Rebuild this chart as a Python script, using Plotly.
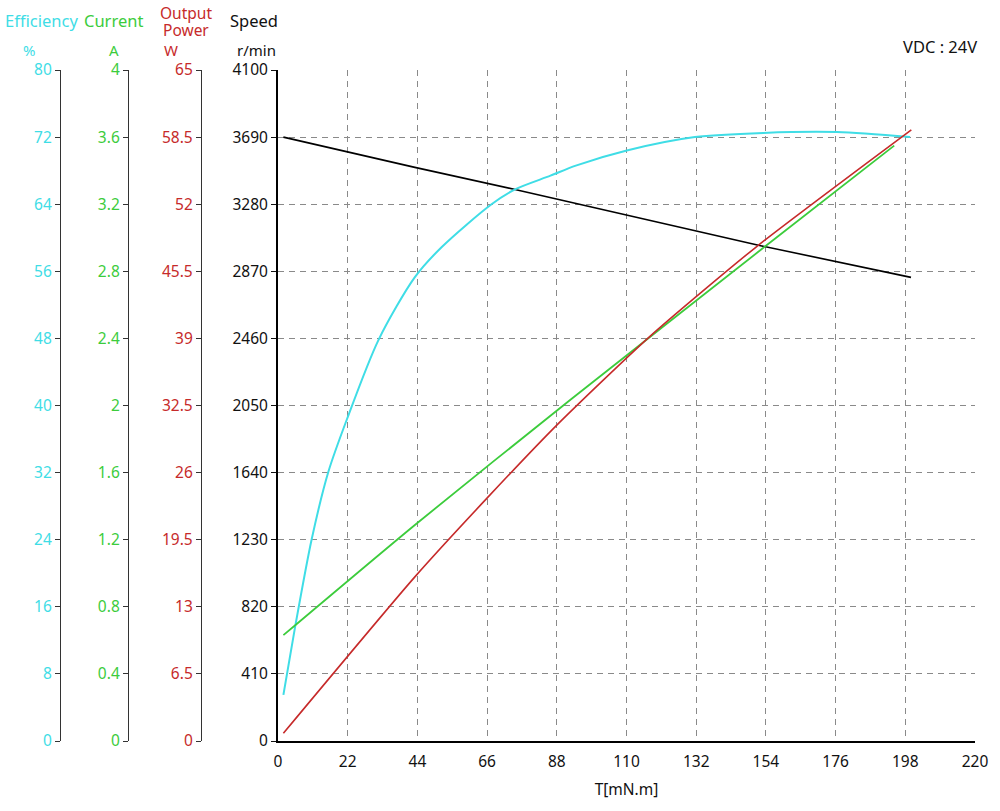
import plotly.graph_objects as go

# ---- data ----
torque_speed = [1.7, 43.2, 74.8, 110.0, 152.7, 199.8]
speed_rpm = [3690, 3505, 3370, 3215, 3025, 2833]

torque_eff = [1.7, 5.4, 10.6, 15.9, 21.7, 31.7, 43.2, 51.7, 67.4, 75.0, 86.0, 94.0,
              110.1, 131.6, 153.2, 176.4, 199.5]
efficiency = [5.5, 13.6, 24.0, 32.1, 38.3, 47.8, 55.3, 58.9, 64.0, 65.8, 67.4, 68.6,
              70.4, 72.0, 72.5, 72.6, 72.0]

torque_cur = [1.7, 43.2, 92.2, 153.2, 194.5]
current = [0.631, 1.288, 2.033, 2.94, 3.549]

torque_pow = [1.7, 43.2, 65.9, 88.0, 117.4, 151.1, 199.9]
power = [0.75, 15.9, 23.5, 30.6, 39.2, 47.9, 59.2]

x_ticks = [0, 22, 44, 66, 88, 110, 132, 154, 176, 198, 220]
speed_ticks = [0, 410, 820, 1230, 1640, 2050, 2460, 2870, 3280, 3690, 4100]
eff_ticks = [0, 8, 16, 24, 32, 40, 48, 56, 64, 72, 80]
cur_ticks = [0, 0.4, 0.8, 1.2, 1.6, 2, 2.4, 2.8, 3.2, 3.6, 4]
cur_labels = ["0", "0.4", "0.8", "1.2", "1.6", "2", "2.4", "2.8", "3.2", "3.6", "4"]
pow_ticks = [0, 6.5, 13, 19.5, 26, 32.5, 39, 45.5, 52, 58.5, 65]
pow_labels = ["0", "6.5", "13", "19.5", "26", "32.5", "39", "45.5", "52", "58.5", "65"]

CYAN = "#3fdde6"
GREEN = "#3ccc3c"
RED = "#c62a2a"
FONT = "Noto Sans"
TICK = 15.5
TITLE = 16.5

W, H = 1000, 811


def fx(px):
    return px / W


fig = go.Figure()
fig.add_trace(go.Scatter(x=torque_speed, y=speed_rpm, mode="lines", yaxis="y",
                         line=dict(color="black", width=1.6), showlegend=False,
                         hoverinfo="skip"))
fig.add_trace(go.Scatter(x=torque_eff, y=efficiency, mode="lines", yaxis="y2",
                         line=dict(color=CYAN, width=2, shape="spline", smoothing=0.8),
                         showlegend=False, hoverinfo="skip"))
fig.add_trace(go.Scatter(x=torque_cur, y=current, mode="lines", yaxis="y3",
                         line=dict(color=GREEN, width=1.8, shape="spline", smoothing=0.6),
                         showlegend=False, hoverinfo="skip"))
fig.add_trace(go.Scatter(x=torque_pow, y=power, mode="lines", yaxis="y4",
                         line=dict(color=RED, width=1.6, shape="spline", smoothing=0.6),
                         showlegend=False, hoverinfo="skip"))

side_axis = dict(anchor="free", overlaying="y", side="left", showgrid=False,
                 zeroline=False, showline=True, linecolor="#333", linewidth=1.3,
                 ticks="outside", ticklen=5, tickcolor="#333", automargin=False)

fig.update_layout(
    template="none",
    width=W, height=H, autosize=False,
    margin=dict(l=0, r=0, t=70, b=70, pad=0, autoexpand=False),
    paper_bgcolor="white", plot_bgcolor="white",
    font=dict(family=FONT, size=TICK, color="#111"),
    xaxis=dict(domain=[fx(278), fx(975)], range=[0, 220], tickvals=x_ticks,
               showline=True, linecolor="black", linewidth=2, automargin=False,
               showgrid=True, gridcolor="#8a8a8a", gridwidth=1, griddash="6px,5px",
               zeroline=False, ticks="", ticklabelstandoff=5,
               tickfont=dict(size=TICK, color="#111"),
               title=dict(text="T[mN.m]", font=dict(size=TICK, color="#111"), standoff=14)),
    yaxis=dict(range=[0, 4100], tickvals=speed_ticks, anchor="x", automargin=False,
               showline=True, linecolor="black", linewidth=2,
               showgrid=True, gridcolor="#8a8a8a", gridwidth=1, griddash="6px,5px",
               zeroline=False, ticks="outside", ticklen=5, tickcolor="#111",
               tickfont=dict(size=TICK, color="#111")),
    yaxis2=dict(side_axis, position=fx(60), range=[0, 80], tickvals=eff_ticks,
                tickfont=dict(size=TICK, color=CYAN)),
    yaxis3=dict(side_axis, position=fx(128), range=[0, 4], tickvals=cur_ticks,
                ticktext=cur_labels, tickfont=dict(size=TICK, color=GREEN)),
    yaxis4=dict(side_axis, position=fx(201), range=[0, 65], tickvals=pow_ticks,
                ticktext=pow_labels, tickfont=dict(size=TICK, color=RED)),
)


def fy(pix):
    return (741 - pix) / 671.0


anns = [
    ("Efficiency", 41, 21, CYAN, TITLE),
    ("Current", 113, 21, GREEN, TITLE),
    ("Output", 186, 13.5, RED, 15.5),
    ("Power", 186, 30.5, RED, 15.5),
    ("Speed", 254, 21, "#111", TITLE),
    ("%", 29, 50, CYAN, 15),
    ("A", 114, 50, GREEN, 15),
    ("W", 171, 50, RED, 15),
    ("r/min", 256, 50, "#111", 15),
    ("VDC : 24V", 940, 46, "#111", TITLE),
]
for text, x, y, col, sz in anns:
    fig.add_annotation(text=text, x=fx(x), y=fy(y), xref="paper", yref="paper",
                       showarrow=False, xanchor="center", yanchor="middle",
                       font=dict(family=FONT, size=sz, color=col),
                       align="center", borderpad=0)

fig.write_html(
    "out.html",
    config={"displayModeBar": False, "responsive": False},
    post_script="document.documentElement.style.margin='0';"
                "document.body.style.margin='0';"
                "document.body.style.overflow='hidden';",
)
